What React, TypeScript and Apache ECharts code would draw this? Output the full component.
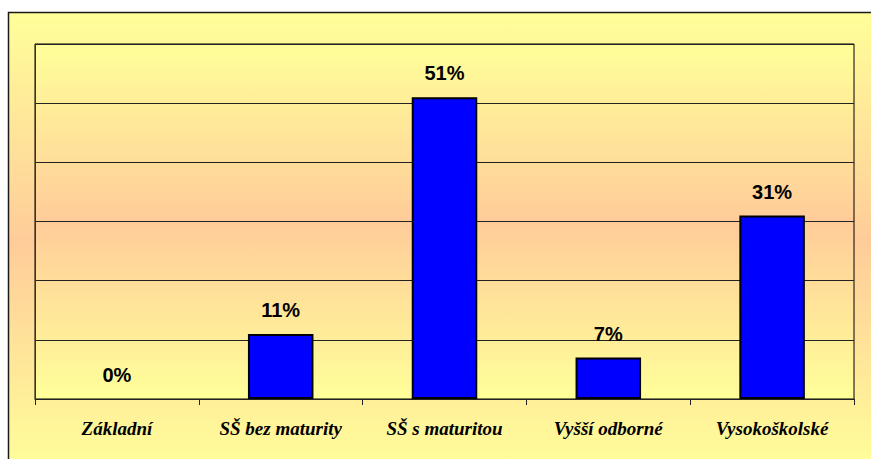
import React, { useEffect, useRef } from "react";
import * as echarts from "echarts";

const categories = ["Základní", "SŠ bez maturity", "SŠ s maturitou", "Vyšší odborné", "Vysokoškolské"];
const values = [0, 11, 51, 7, 31];
const yMin = 0;
const yMax = 60;
const yInterval = 10;

const YELLOW = "#FFFF99";
const PEACH = "#FFCC99";

export default function App() {
  const ref = useRef<HTMLDivElement>(null);
  useEffect(() => {
    if (!ref.current) return;
    const chart = echarts.init(ref.current, null, { renderer: "svg" });
    const vgrad = () =>
      new echarts.graphic.LinearGradient(0, 0, 0, 1, [
        { offset: 0, color: YELLOW },
        { offset: 0.5, color: PEACH },
        { offset: 1, color: YELLOW },
      ]);
    chart.setOption({
      animation: false,
      backgroundColor: "#ffffff",
      graphic: [
        {
          type: "rect",
          z: -10,
          zlevel: 0,
          silent: true,
          shape: { x: 8.5, y: 12.5, width: 900, height: 458 },
          style: { fill: vgrad(), stroke: "#1a1a1a", lineWidth: 1.5 },
        },
      ],
      grid: {
        left: 35,
        right: 17,
        top: 44,
        bottom: 60,
        show: true,
        backgroundColor: vgrad(),
        borderColor: "#000",
        borderWidth: 1,
        z: 0,
      },
      xAxis: {
        type: "category",
        data: categories,
        axisLine: { show: true, lineStyle: { color: "#222", width: 1 } },
        axisTick: { show: true, alignWithLabel: false, length: 6, lineStyle: { color: "#222" } },
        axisLabel: {
          interval: 0,
          margin: 20,
          color: "#000",
          fontFamily: "Liberation Serif",
          fontWeight: "bold",
          fontStyle: "italic",
          fontSize: 19,
        },
        z: 5,
      },
      yAxis: {
        type: "value",
        min: yMin,
        max: yMax,
        interval: yInterval,
        axisLine: { show: true, lineStyle: { color: "#333", width: 1 } },
        axisTick: { show: false },
        axisLabel: { show: false },
        splitLine: { show: true, lineStyle: { color: "#222", width: 1 } },
        z: 5,
      },
      series: [
        {
          type: "bar",
          data: values.map((v) => (v === 0 ? { value: v, itemStyle: { borderWidth: 0 } } : v)),
          barWidth: "40%",
          itemStyle: { color: "#0000FF", borderColor: "#000", borderWidth: 2 },
          label: {
            show: true,
            position: "top",
            distance: 14,
            formatter: (p: any) => `${p.value}%`,
            color: "#000",
            fontFamily: "Liberation Sans",
            fontWeight: "bold",
            fontSize: 20,
          },
          z: 6,
        },
      ],
    });
    return () => chart.dispose();
  }, []);
  return (
    <div
      ref={ref}
      style={{ position: "fixed", left: 0, top: 0, width: 871, height: 459 }}
    />
  );
}
